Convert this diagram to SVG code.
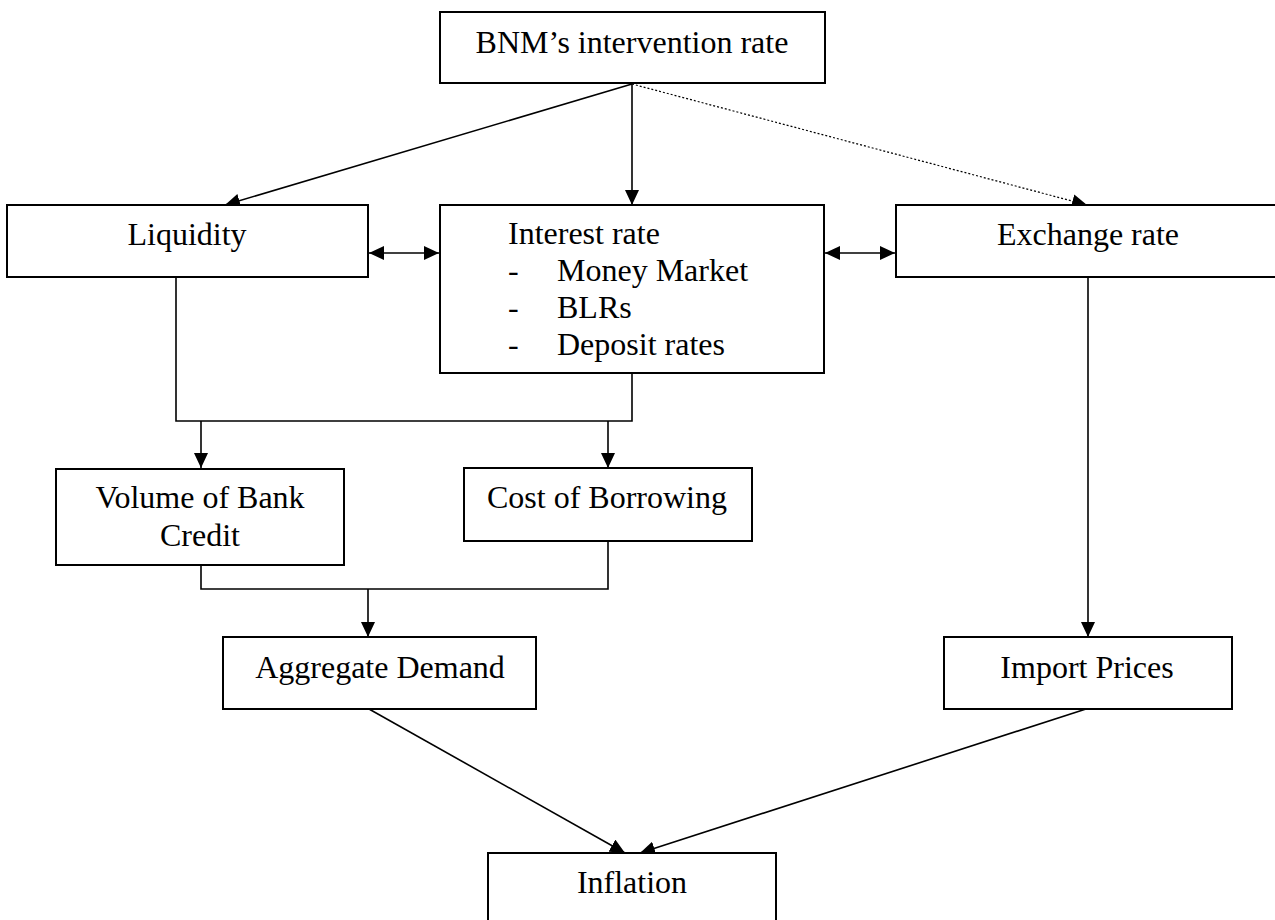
<svg xmlns="http://www.w3.org/2000/svg" width="1275" height="920" viewBox="0 0 1275 920">
<style>
.box{fill:#fff;stroke:#000;stroke-width:2}
.t{font-family:"Liberation Serif","Times New Roman",serif;font-size:32px;fill:#000}
.c{text-anchor:middle}
.ln{fill:none;stroke:#000;stroke-width:1.6}
.dot{fill:none;stroke:#000;stroke-width:1.2;stroke-dasharray:2 2}
</style>
<defs>
<marker id="ah" markerUnits="userSpaceOnUse" markerWidth="15" markerHeight="14" refX="15" refY="7" orient="auto-start-reverse">
<path d="M0,0 L15,7 L0,14 z" fill="#000"/>
</marker>
</defs>
<rect width="1275" height="920" fill="#fff"/>
<g id="connectors">
<line class="ln" x1="632" y1="84" x2="225" y2="205" marker-end="url(#ah)"/>
<line class="ln" x1="632" y1="84" x2="632" y2="205" marker-end="url(#ah)"/>
<line class="dot" x1="632" y1="84" x2="1087" y2="205" marker-end="url(#ah)"/>
<line class="ln" x1="369" y1="253" x2="439" y2="253" marker-start="url(#ah)" marker-end="url(#ah)"/>
<line class="ln" x1="825" y1="253" x2="895" y2="253" marker-start="url(#ah)" marker-end="url(#ah)"/>
<polyline class="ln" points="176,277 176,421 632,421 632,373"/>
<line class="ln" x1="201" y1="421" x2="201" y2="468" marker-end="url(#ah)"/>
<line class="ln" x1="608" y1="421" x2="608" y2="468" marker-end="url(#ah)"/>
<polyline class="ln" points="201,565 201,589 608,589 608,541"/>
<line class="ln" x1="368" y1="589" x2="368" y2="637" marker-end="url(#ah)"/>
<line class="ln" x1="1088" y1="277" x2="1088" y2="637" marker-end="url(#ah)"/>
<line class="ln" x1="369" y1="709" x2="625" y2="853" marker-end="url(#ah)"/>
<line class="ln" x1="1086" y1="709" x2="640" y2="853" marker-end="url(#ah)"/>
</g>
<g id="bnm">
<rect class="box" x="440" y="12" width="385" height="71"/>
<text class="t c" x="632" y="53">BNM’s intervention rate</text>
</g>
<g id="liquidity">
<rect class="box" x="7" y="205" width="361" height="72"/>
<text class="t c" x="187" y="245">Liquidity</text>
</g>
<g id="interest">
<rect class="box" x="440" y="205" width="384" height="168"/>
<text class="t" x="508" y="244">Interest rate</text>
<text class="t" x="508" y="281">-</text>
<text class="t" x="557" y="281">Money Market</text>
<text class="t" x="508" y="318">-</text>
<text class="t" x="557" y="318">BLRs</text>
<text class="t" x="508" y="355">-</text>
<text class="t" x="557" y="355">Deposit rates</text>
</g>
<g id="exchange">
<rect class="box" x="896" y="205" width="390" height="72"/>
<text class="t c" x="1088" y="245">Exchange rate</text>
</g>
<g id="volume">
<rect class="box" x="56" y="469" width="288" height="96"/>
<text class="t c" x="200" y="508">Volume of Bank</text>
<text class="t c" x="200" y="546">Credit</text>
</g>
<g id="cost">
<rect class="box" x="464" y="468" width="288" height="73"/>
<text class="t c" x="607" y="508">Cost of Borrowing</text>
</g>
<g id="aggregate">
<rect class="box" x="223" y="637" width="313" height="72"/>
<text class="t c" x="380" y="678">Aggregate Demand</text>
</g>
<g id="import">
<rect class="box" x="944" y="637" width="288" height="72"/>
<text class="t c" x="1087" y="678">Import Prices</text>
</g>
<g id="inflation">
<rect class="box" x="488" y="853" width="288" height="80"/>
<text class="t c" x="632" y="893">Inflation</text>
</g>
</svg>
